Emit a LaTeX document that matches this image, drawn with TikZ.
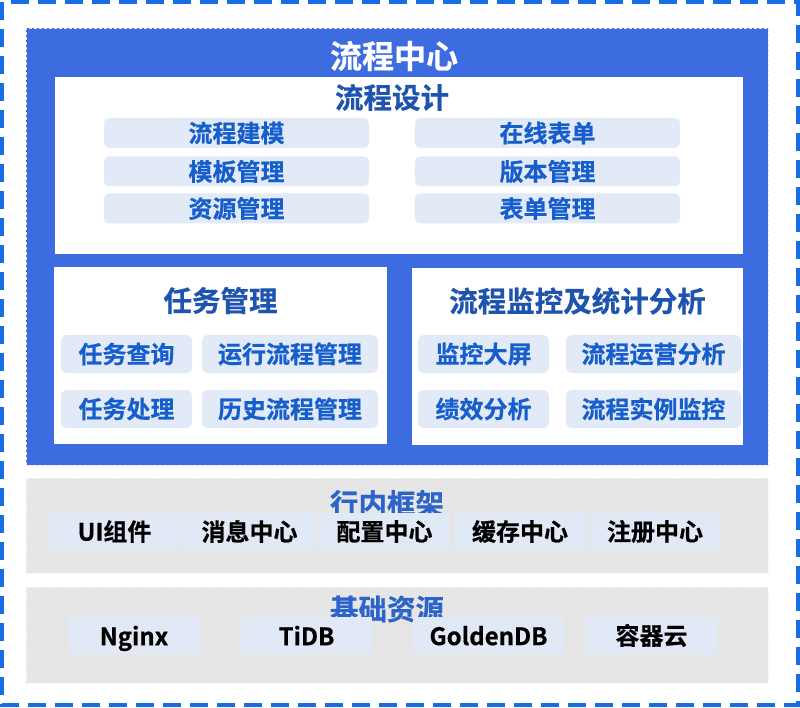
\documentclass[tikz,border=0pt]{standalone}
\usepackage{fontspec}
\setmainfont{Noto Sans CJK SC}[BoldFont={Noto Sans CJK SC Bold}, BoldFeatures={FakeBold=0.6}]
\definecolor{outblue}{RGB}{24,108,228}
\definecolor{mainblue}{RGB}{61,107,224}
\definecolor{chipfill}{RGB}{226,234,247}
\definecolor{chipblue}{RGB}{22,94,204}
\definecolor{titleblue}{RGB}{30,84,176}
\definecolor{fwblue}{RGB}{44,100,204}
\definecolor{grayfill}{RGB}{230,230,230}
\definecolor{fwchip}{RGB}{225,233,246}
\tikzset{
  panel/.style={inner sep=0pt, outer sep=0pt},
  bluebox/.style={panel, fill=mainblue, draw=white!85!mainblue, line width=0.8pt, dash pattern=on 3pt off 2pt},
  whitebox/.style={panel, fill=white},
  graybox/.style={panel, fill=grayfill, draw=white!60!grayfill, line width=0.8pt, dash pattern=on 3pt off 2pt},
  chip/.style={inner sep=0pt, fill=chipfill, rounded corners=5pt, text=chipblue, font=\bfseries\fontsize{24}{26}\selectfont},
  fwchipbox/.style={inner sep=0pt, fill=fwchip, text=black, font=\bfseries\fontsize{24}{26}\selectfont},
  latin/.style={text depth=0pt},
  maintitle/.style={inner sep=0pt, text=white, font=\bfseries\fontsize{32}{34}\selectfont},
  sectitle/.style={inner sep=0pt, text=titleblue, font=\bfseries\fontsize{28.5}{30}\selectfont},
  fwtitle/.style={inner sep=0pt, text=fwblue, font=\bfseries\fontsize{28.5}{30}\selectfont},
}
\begin{document}
\begin{tikzpicture}[x=1pt,y=-1pt]
\useasboundingbox (0,0) rectangle (800,708);
% outer dashed frame
\coordinate (o1) at (2,2);
\coordinate (o2) at (797.5,705);
\draw[outblue, line width=4pt, dash pattern=on 18pt off 9pt] (o1) rectangle (o2);
% blue main box
\node[bluebox, minimum width=742pt, minimum height=437pt] (center) at (397,246.5) {};
\node[maintitle] (t0) at (394,56) {流程中心};
% upper white panel
\node[whitebox, minimum width=688pt, minimum height=177pt] (design) at (399,165.5) {};
\node[sectitle] (t1) at (392,97.5) {流程设计};
\node[chip, minimum width=265pt, minimum height=30pt] (d1) at (236.5,133) {流程建模};
\node[chip, minimum width=265pt, minimum height=30pt] (d2) at (236.5,171.5) {模板管理};
\node[chip, minimum width=265pt, minimum height=30pt] (d3) at (236.5,208.5) {资源管理};
\node[chip, minimum width=265pt, minimum height=30pt] (d4) at (547.5,133) {在线表单};
\node[chip, minimum width=265pt, minimum height=30pt] (d5) at (547.5,171.5) {版本管理};
\node[chip, minimum width=265pt, minimum height=30pt] (d6) at (547.5,208.5) {表单管理};
% task panel
\node[whitebox, minimum width=333pt, minimum height=177pt] (task) at (220.5,355.5) {};
\node[sectitle] (t2) at (220.5,300.5) {任务管理};
\node[chip, rounded corners=6pt, minimum width=131pt, minimum height=38pt] (k1) at (126.5,354) {任务查询};
\node[chip, rounded corners=6pt, minimum width=176pt, minimum height=38pt] (k2) at (290,354) {运行流程管理};
\node[chip, rounded corners=6pt, minimum width=131pt, minimum height=38pt] (k3) at (126.5,409) {任务处理};
\node[chip, rounded corners=6pt, minimum width=176pt, minimum height=38pt] (k4) at (290,409) {历史流程管理};
% monitor panel
\node[whitebox, minimum width=331pt, minimum height=177pt] (monitor) at (577.5,356.5) {};
\node[sectitle] (t3) at (577.5,301) {流程监控及统计分析};
\node[chip, rounded corners=6pt, minimum width=131pt, minimum height=38pt] (m1) at (483.5,354) {监控大屏};
\node[chip, rounded corners=6pt, minimum width=175pt, minimum height=38pt] (m2) at (653.5,354) {流程运营分析};
\node[chip, rounded corners=6pt, minimum width=131pt, minimum height=38pt] (m3) at (483.5,409) {绩效分析};
\node[chip, rounded corners=6pt, minimum width=175pt, minimum height=38pt] (m4) at (653.5,409) {流程实例监控};
% framework
\node[graybox, minimum width=742pt, minimum height=95pt] (framework) at (397,525.5) {};
\node[fwtitle] (t4) at (387,503.5) {行内框架};
\node[fwchipbox, minimum width=131pt, minimum height=37pt] (f1) at (114.5,531.5) {UI组件};
\node[fwchipbox, minimum width=133pt, minimum height=37pt] (f2) at (249.5,531.5) {消息中心};
\node[fwchipbox, minimum width=131pt, minimum height=37pt] (f3) at (384.5,531.5) {配置中心};
\node[fwchipbox, minimum width=130pt, minimum height=37pt] (f4) at (520,531.5) {缓存中心};
\node[fwchipbox, minimum width=132pt, minimum height=37pt] (f5) at (655,531.5) {注册中心};
% base resources
\node[graybox, minimum width=742pt, minimum height=96pt] (base) at (397,635) {};
\node[fwtitle] (t5) at (387,609) {基础资源};
\node[fwchipbox, latin, minimum width=132pt, minimum height=37pt] (b1) at (134,635.5) {Nginx};
\node[fwchipbox, latin, minimum width=131pt, minimum height=37pt] (b2) at (306.5,635.5) {TiDB};
\node[fwchipbox, latin, minimum width=151pt, minimum height=37pt] (b3) at (488.5,635.5) {GoldenDB};
\node[fwchipbox, minimum width=131pt, minimum height=37pt] (b4) at (651.5,635.5) {容器云};
\end{tikzpicture}
\end{document}
